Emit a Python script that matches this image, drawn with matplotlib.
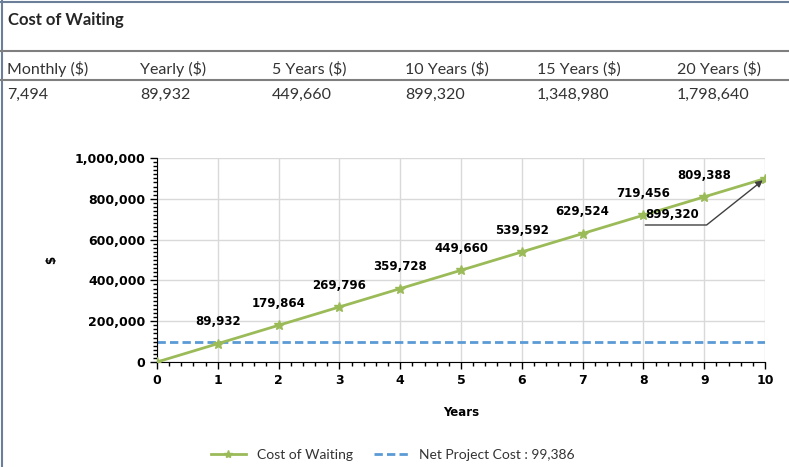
import matplotlib.pyplot as plt
from matplotlib.lines import Line2D
from matplotlib.ticker import MultipleLocator, FuncFormatter

# table at the top
col_names = ['Monthly ($)', 'Yearly ($)', '5 Years ($)', '10 Years ($)', '15 Years ($)', '20 Years ($)']
col_values = ['7,494', '89,932', '449,660', '899,320', '1,348,980', '1,798,640']

# chart data
years = list(range(11))
cost_of_waiting = [0, 89932, 179864, 269796, 359728, 449660, 539592, 629524, 719456, 809388, 899320]
net_project_cost = 99386

green = '#9BBB59'
blue = '#5B9BD5'
table_font = 'Lato'

fig = plt.figure(figsize=(7.89, 4.67), dpi=100)

# frame + table rules
fig.add_artist(Line2D([0, 1], [1 - 1.5 / 467] * 2, color='#6b7f99', lw=1.5))
fig.add_artist(Line2D([1.5 / 789] * 2, [0, 1], color='#6b7f99', lw=1.5))
fig.add_artist(Line2D([0, 1], [1 - 51 / 467] * 2, color='#7f7f7f', lw=1.5))
fig.add_artist(Line2D([0, 1], [1 - 80 / 467] * 2, color='#7f7f7f', lw=1.5))

fig.text(8 / 789, 1 - 20 / 467, 'Cost of Waiting', family=table_font, fontweight='bold',
         fontsize=12, color='#262626', va='center', ha='left')
col_x = [7, 140, 272, 405, 537, 677]
for x, name, val in zip(col_x, col_names, col_values):
    fig.text(x / 789, 1 - 69 / 467, name, family=table_font, fontsize=11.5,
             color='#333333', va='center', ha='left')
    fig.text(x / 789, 1 - 95 / 467, val, family=table_font, fontsize=11.5,
             color='#333333', va='center', ha='left')

ax = fig.add_axes([157 / 789, 1 - 362 / 467, 608 / 789, 204 / 467])

ax.axhline(net_project_cost, color=blue, lw=2, dashes=(3, 1.5), zorder=2)
ax.plot(years, cost_of_waiting, color=green, lw=2, marker='*', markersize=7, zorder=3)

for x, y in zip(years[1:-1], cost_of_waiting[1:-1]):
    ax.annotate(f'{y:,}', (x, y), xytext=(0, 11), textcoords='offset points',
                ha='center', va='bottom', fontsize=8.5, fontweight='bold')

# callout for the last point
ax.text(8.03, 720600, f'{cost_of_waiting[-1]:,}', ha='left', va='center',
        fontsize=8.5, fontweight='bold')
ax.annotate('', xy=(years[-1], cost_of_waiting[-1]), xytext=(8.03, 671600),
            arrowprops=dict(arrowstyle='-|>', color='#404040', lw=1,
                            shrinkA=0, shrinkB=2, mutation_scale=10,
                            connectionstyle='angle,angleA=0,angleB=38.5,rad=0'))

ax.set_xlim(0, 10)
ax.set_ylim(0, 1000000)
ax.xaxis.set_major_locator(MultipleLocator(1))
ax.xaxis.set_minor_locator(MultipleLocator(0.2))
ax.yaxis.set_major_locator(MultipleLocator(200000))
ax.yaxis.set_minor_locator(MultipleLocator(20000))
ax.yaxis.set_major_formatter(FuncFormatter(lambda v, p: f'{int(v):,}'))

ax.grid(True, which='major', color='#d9d9d9', lw=1)
ax.set_axisbelow(True)
for s in ['top', 'right']:
    ax.spines[s].set_visible(False)
ax.tick_params(which='major', length=5, width=1, labelsize=9)
ax.tick_params(which='minor', length=3, width=1)
for lbl in ax.get_xticklabels() + ax.get_yticklabels():
    lbl.set_fontweight('bold')

ax.set_xlabel('Years', fontsize=8.5, fontweight='bold', labelpad=14)
ax.set_ylabel('$', fontsize=8.5, fontweight='bold', labelpad=12)

handles = [Line2D([], [], color=green, lw=2, marker='*', markersize=6),
           Line2D([], [], color=blue, lw=2, dashes=(3, 1.5))]
fig.legend(handles, ['Cost of Waiting', f'Net Project Cost : {net_project_cost:,}'],
           loc='center', bbox_to_anchor=(0.498, 1 - 455 / 467), ncol=2, frameon=False,
           prop={'family': table_font, 'size': 10}, labelcolor='#333333',
           handlelength=2.5, columnspacing=1.5)

fig.savefig('out.png', dpi=100)
